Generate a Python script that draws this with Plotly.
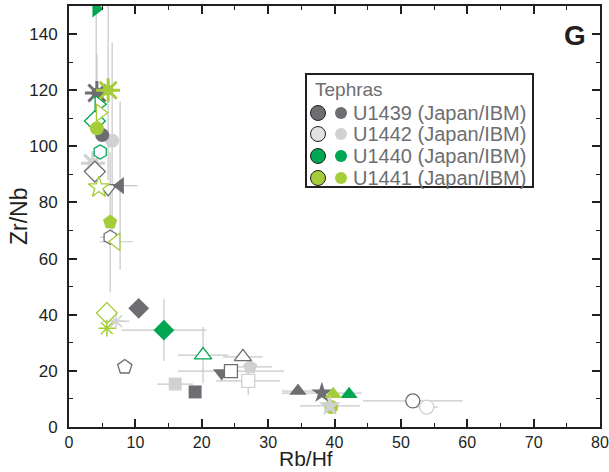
import plotly.graph_objects as go

# ---------------- data ----------------
groups = ["U1439", "U1442", "U1440", "U1441"]
legend_labels = ["U1439 (Japan/IBM)", "U1442 (Japan/IBM)", "U1440 (Japan/IBM)", "U1441 (Japan/IBM)"]

u1439_x = [4.2, 5.0, 3.9, 5.9, 7.7, 6.2, 10.5, 8.4, 19.0, 23.0, 24.4, 26.2, 34.5, 38.1, 51.8]
u1439_y = [119, 104, 91, 85, 86, 67.6, 42.3, 21.4, 12.5, 19.2, 19.9, 25.0, 12.8, 12.1, 9.3]
u1439_ex = [0, 0, 0, 0, 2.6, 1.5, 0, 0, 0, 0, 8.0, 3.0, 2.4, 6.0, 7.5]
u1439_ey = [14, 0, 0, 0, 30, 0, 3, 0, 0, 0, 0, 0, 0, 0, 0]

u1442_x = [6.5, 3.6, 7.1, 16.0, 27.3, 27.0, 39.3, 53.9]
u1442_y = [102, 94, 37.7, 15.3, 21.4, 16.4, 7.5, 7.1]
u1442_ex = [0, 0, 2.0, 2.7, 3.3, 4.8, 4.5, 1.7]
u1442_ey = [35, 0, 0, 2, 0, 5, 0, 0]

u1440_x = [4.1, 4.5, 3.9, 4.7, 14.3, 20.2, 42.2]
u1440_y = [149, 115, 109, 98, 34.5, 25.6, 11.7]
u1440_ex = [0, 0, 0, 0, 6.4, 3.8, 0]
u1440_ey = [40, 0, 0, 0, 11, 10, 0]

u1441_x = [5.9, 4.7, 4.2, 4.5, 6.2, 7.1, 5.7, 5.7, 39.8, 39.5]
u1441_y = [120, 112, 106.4, 85.4, 73, 66, 40.6, 35.2, 11.7, 7.1]
u1441_ex = [0, 0, 0, 0, 0, 2.5, 0, 0, 0, 0]
u1441_ey = [32, 0, 0, 0, 25, 0, 0, 0, 0, 0]

x_ticks = [0, 10, 20, 30, 40, 50, 60, 70, 80]
y_ticks = [0, 20, 40, 60, 80, 100, 120, 140]
x_title = "Rb/Hf"
y_title = "Zr/Nb"

# ---------------- styles ----------------
colors = {"U1439": "#6d6e71", "U1442": "#cfd1d3", "U1440": "#00a651", "U1441": "#a5cd39"}
# (symbol, filled)
u1439_sym = [("burst", 1), ("circle", 1), ("diamond", 0), ("triangle-down", 0), ("triangle-left", 1),
             ("hexagon", 0), ("diamond", 1), ("pentagon", 0), ("square", 1), ("triangle-down", 1),
             ("square", 0), ("triangle-up", 0), ("triangle-up", 1), ("star", 1), ("circle", 0)]
u1442_sym = [("circle", 1), ("burst", 1), ("asterisk", 0), ("square", 1), ("pentagon", 1),
             ("square", 0), ("star", 1), ("circle", 0)]
u1440_sym = [("triangle-right", 1), ("triangle-right", 0), ("diamond", 0), ("hexagon", 0),
             ("diamond", 1), ("triangle-up", 0), ("triangle-up", 1)]
u1441_sym = [("burst", 1), ("triangle-right", 0), ("circle", 1), ("star", 0), ("pentagon", 1),
             ("triangle-left", 0), ("diamond", 0), ("asterisk", 0), ("triangle-up", 1), ("circle", 1)]

data = {
    "U1439": (u1439_x, u1439_y, u1439_ex, u1439_ey, u1439_sym),
    "U1442": (u1442_x, u1442_y, u1442_ex, u1442_ey, u1442_sym),
    "U1440": (u1440_x, u1440_y, u1440_ex, u1440_ey, u1440_sym),
    "U1441": (u1441_x, u1441_y, u1441_ex, u1441_ey, u1441_sym),
}
sizes = {"circle": 14, "diamond": 16, "square": 13, "triangle-up": 15, "triangle-down": 15,
         "triangle-left": 15, "triangle-right": 15, "hexagon": 14, "pentagon": 15, "star": 16,
         "asterisk": 14}

fig = go.Figure()
ERR = "#c6c7c8"

# error bars first
for g in groups:
    xs, ys, exs, eys, _ = data[g]
    fig.add_trace(go.Scatter(
        x=xs, y=ys, mode="markers", showlegend=False, hoverinfo="skip",
        marker=dict(size=1, color="rgba(0,0,0,0)"),
        error_x=dict(type="data", array=exs, color=ERR, thickness=1.2, width=0),
        error_y=dict(type="data", array=eys, color=ERR, thickness=1.2, width=0),
    ))

draw_order = ["U1442", "U1439", "U1440", "U1441"]
for g in draw_order:
    xs, ys, exs, eys, syms = data[g]
    c = colors[g]
    nx, ny, nsym, nfill, nsize, nlw = [], [], [], [], [], []
    bx, by = [], []
    for x, y, (s, f) in zip(xs, ys, syms):
        if s == "burst":
            bx.append(x); by.append(y)
            continue
        nx.append(x); ny.append(y)
        if s == "asterisk":
            nsym.append("asterisk-open"); nfill.append(c); nlw.append(1.5)
        else:
            nsym.append(s); nfill.append(c if f else "white"); nlw.append(0 if f else 1.3)
        nsize.append(sizes[s])
    fig.add_trace(go.Scatter(
        x=nx, y=ny, mode="markers", showlegend=False,
        marker=dict(symbol=nsym, size=nsize, color=nfill, opacity=1,
                    line=dict(color=c, width=nlw)),
    ))
    if bx:
        fig.add_trace(go.Scatter(x=bx, y=by, mode="markers", showlegend=False,
                                 marker=dict(symbol="asterisk-open", size=20, color=c, opacity=1,
                                             line=dict(color=c, width=3))))
        fig.add_trace(go.Scatter(x=bx, y=by, mode="markers", showlegend=False,
                                 marker=dict(symbol="circle", size=11, color=c, opacity=1,
                                             line=dict(width=0))))

# light gray star sits over the U1441 circle
i_star = [k for k, (s, f) in enumerate(u1442_sym) if s == "star"]
fig.add_trace(go.Scatter(x=[u1442_x[k] for k in i_star], y=[u1442_y[k] for k in i_star],
                         mode="markers", showlegend=False,
                         marker=dict(symbol="star", size=16, color=colors["U1442"], opacity=1,
                                     line=dict(width=0))))

AX = "#231f20"
FONT = "Liberation Sans, Arial, sans-serif"
axis_common = dict(showline=True, linewidth=2, linecolor=AX, mirror="ticks",
                   ticks="inside", ticklen=8, tickwidth=1.5, tickcolor=AX,
                   showgrid=False, zeroline=False, automargin=False,
                   ticklabeloverflow="allow")
fig.update_xaxes(range=[0, 80], tickvals=x_ticks, ticklabelstandoff=0,
                 tickfont=dict(family=FONT, size=16, color=AX),
                 minor=dict(dtick=5, ticks="inside", ticklen=4, tickwidth=1.2, tickcolor=AX),
                 **axis_common)
fig.update_yaxes(range=[0, 150], tickvals=y_ticks, ticklabelstandoff=6,
                 tickfont=dict(family=FONT, size=17, color=AX),
                 minor=dict(dtick=10, ticks="inside", ticklen=4, tickwidth=1.2, tickcolor=AX),
                 **axis_common)

# ---------------- custom legend & titles ----------------
def px2paper(px, py):
    return (px - 69) / 531, (427 - py) / 421

shapes = []
annotations = []

xtx, xty = px2paper(306, 472)
annotations.append(dict(text=x_title, xref="paper", yref="paper", x=xtx, y=xty,
                        xanchor="center", yanchor="bottom", showarrow=False,
                        font=dict(family=FONT, size=21, color=AX)))
ytx, yty = px2paper(19, 216)
annotations.append(dict(text=y_title, xref="paper", yref="paper", x=ytx, y=yty, textangle=-90,
                        xanchor="center", yanchor="middle", showarrow=False,
                        font=dict(family=FONT, size=23, color=AX)))

bx0, by0 = px2paper(306, 74)
bx1, by1 = px2paper(533, 187)
shapes.append(dict(type="rect", xref="paper", yref="paper", x0=bx0, y0=by1, x1=bx1, y1=by0,
                   line=dict(color=AX, width=2), fillcolor="white", layer="above"))
tx, ty = px2paper(313, 89)
annotations.append(dict(text="Tephras", xref="paper", yref="paper", x=tx, y=ty,
                        xanchor="left", yanchor="middle", showarrow=False,
                        font=dict(family=FONT, size=19, color="#6d6e71")))
row_y = [113, 134, 156, 178]
big_fill = {"U1439": "#6d6e71", "U1442": "#e1e2e3", "U1440": "#00a651", "U1441": "#a5cd39"}
for g, lab, ry in zip(groups, legend_labels, row_y):
    cx1, cy = px2paper(318, ry)
    cx2, _ = px2paper(341, ry)
    shapes.append(dict(type="circle", xref="paper", yref="paper", xsizemode="pixel",
                       ysizemode="pixel", xanchor=cx1, yanchor=cy, x0=-7.5, x1=7.5, y0=-7.5, y1=7.5,
                       fillcolor=big_fill[g], line=dict(color="#231f20", width=1), layer="above"))
    shapes.append(dict(type="circle", xref="paper", yref="paper", xsizemode="pixel",
                       ysizemode="pixel", xanchor=cx2, yanchor=cy, x0=-6, x1=6, y0=-6, y1=6,
                       fillcolor=colors[g], line=dict(width=0), layer="above"))
    lx, _ = px2paper(351, ry)
    annotations.append(dict(text=lab, xref="paper", yref="paper", x=lx, y=cy,
                            xanchor="left", yanchor="middle", showarrow=False,
                            font=dict(family=FONT, size=20, color="#6d6e71")))

gx, gy = px2paper(575, 35)
annotations.append(dict(text="<b>G</b>", xref="paper", yref="paper", x=gx, y=gy,
                        xanchor="center", yanchor="middle", showarrow=False,
                        font=dict(family=FONT, size=28, color=AX)))

fig.update_layout(width=609, height=472, margin=dict(l=69, r=9, t=6, b=45),
                  plot_bgcolor="white", paper_bgcolor="white",
                  shapes=shapes, annotations=annotations, showlegend=False)

fig.write_html("out.html")
